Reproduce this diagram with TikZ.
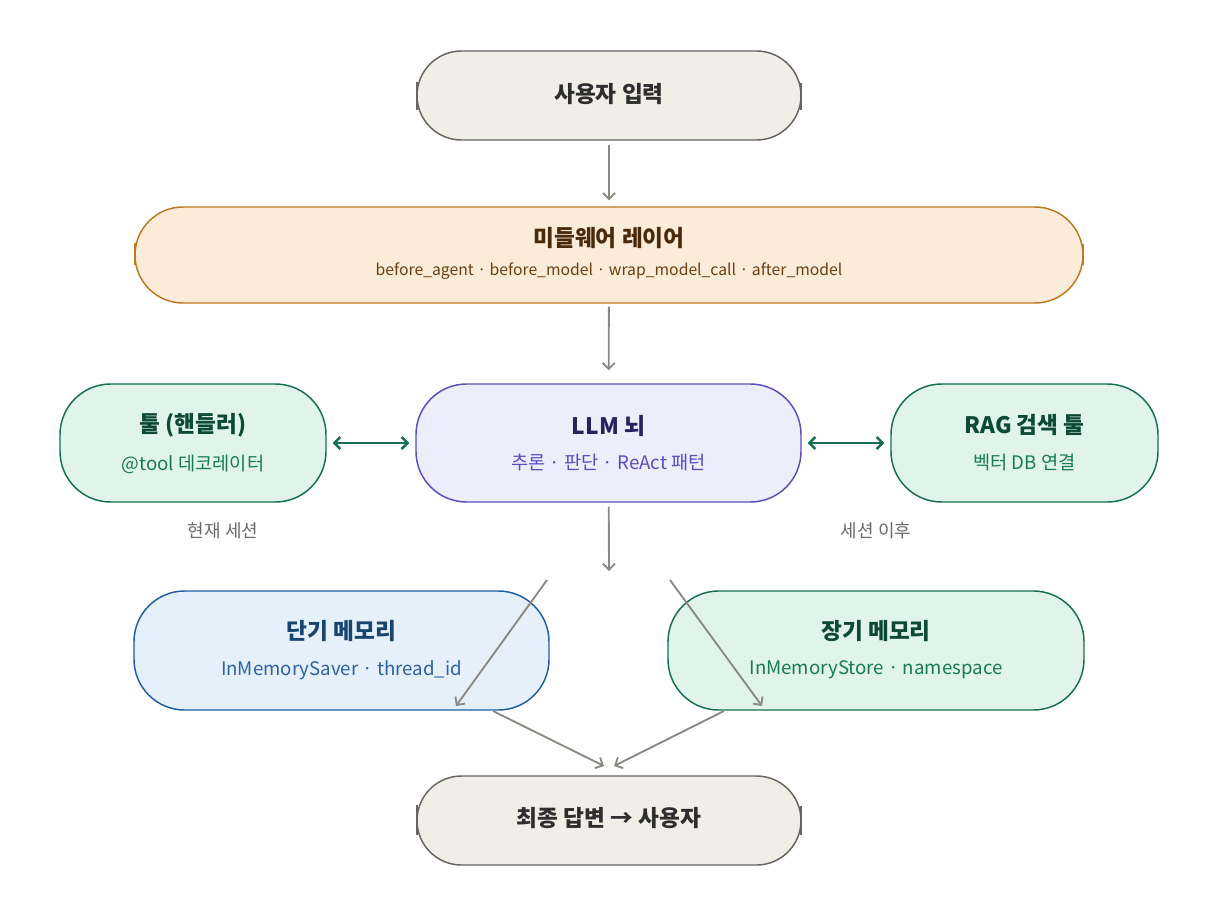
\documentclass[tikz,border=0pt]{standalone}
\usepackage{fontspec}
\setmainfont{Noto Sans CJK KR}
\usetikzlibrary{arrows.meta}
\definecolor{neuF}{HTML}{F1EEE7}
\definecolor{neuD}{HTML}{66655F}
\definecolor{neuT}{HTML}{2E2E2E}
\definecolor{mwF}{HTML}{FAECD9}
\definecolor{mwD}{HTML}{C0781E}
\definecolor{mwT}{HTML}{4B2A0B}
\definecolor{mwS}{HTML}{6A3F12}
\definecolor{llF}{HTML}{EEEDFC}
\definecolor{llD}{HTML}{5B4CC0}
\definecolor{llT}{HTML}{27235E}
\definecolor{llS}{HTML}{5B4CC0}
\definecolor{grF}{HTML}{E1F4EC}
\definecolor{grD}{HTML}{15704F}
\definecolor{grT}{HTML}{0C4A35}
\definecolor{grS}{HTML}{187A57}
\definecolor{blF}{HTML}{E6F0FA}
\definecolor{blD}{HTML}{1E5FA6}
\definecolor{blT}{HTML}{17456F}
\definecolor{blS}{HTML}{2A63A6}
\definecolor{lblC}{HTML}{6B6B6B}
\definecolor{arrC}{HTML}{8A8A85}
\tikzset{
  shapebox/.style={draw, line width=1.1pt, inner sep=0pt},
  ttl/.style={font=\fontsize{17}{20}\selectfont\bfseries, inner sep=0pt},
  sub/.style={font=\fontsize{14}{17}\selectfont, inner sep=0pt},
  subsm/.style={font=\fontsize{11.8}{14}\selectfont, inner sep=0pt},
  lbl/.style={font=\fontsize{13.5}{16}\selectfont, text=lblC, inner sep=0pt},
  garrow/.style={draw=arrC, line width=1.4pt, -{Straight Barb[length=4.5pt,width=9pt]}},
  darrow/.style={draw=grD, line width=1.8pt, {Straight Barb[length=4.5pt,width=9pt]}-{Straight Barb[length=4.5pt,width=9pt]}},
  tick/.style={line width=1.5pt}
}
\begin{document}
\begin{tikzpicture}[x=0.75pt,y=-0.75pt]
\useasboundingbox[fill=white] (0,0) rectangle (1217,917);

% top input
\node[shapebox, draw=neuD, fill=neuF, minimum width=288pt, minimum height=66.75pt, rounded corners=33.37pt] (in) at (609,95.5) {};
\node[ttl, text=neuT] (inT) at (609,94) {사용자 입력};
\draw[tick, neuD] (417,82) -- (417,110);
\draw[tick, neuD] (801,83) -- (801,110);

% middleware
\node[shapebox, draw=mwD, fill=mwF, minimum width=711pt, minimum height=72pt, rounded corners=36pt] (mw) at (609,255) {};
\node[ttl, text=mwT] (mwT) at (609,238) {미들웨어 레이어};
\node[subsm, text=mwS] (mwS) at (609,271) {before\_agent · before\_model · wrap\_model\_call · after\_model};
\draw[tick, mwD] (135,243) -- (135,265);
\draw[tick, mwD] (1083,244) -- (1083,265);

% LLM
\node[shapebox, draw=llD, fill=llF, minimum width=288.75pt, minimum height=88.5pt, rounded corners=38pt] (llm) at (608.5,443) {};
\node[ttl, text=llT] (llmT) at (608.5,426) {LLM 뇌};
\node[sub, text=llS] (llmS) at (608.5,463) {추론 · 판단 · ReAct 패턴};

% tool
\node[shapebox, draw=grD, fill=grF, minimum width=199.5pt, minimum height=88.5pt, rounded corners=38pt] (tool) at (193,443) {};
\node[ttl, text=grT] (toolT) at (193,425) {툴 (핸들러)};
\node[sub, text=grS] (toolS) at (193,464) {@tool 데코레이터};

% RAG
\node[shapebox, draw=grD, fill=grF, minimum width=200.25pt, minimum height=88.5pt, rounded corners=38pt] (rag) at (1024.5,443) {};
\node[ttl, text=grT] (ragT) at (1024.5,425) {RAG 검색 툴};
\node[sub, text=grS] (ragS) at (1024.5,463) {벡터 DB 연결};

% labels
\node[lbl] (cur) at (223,531) {현재 세션};
\node[lbl] (aft) at (876,531) {세션 이후};

% short memory
\node[shapebox, draw=blD, fill=blF, minimum width=311.25pt, minimum height=89.25pt, rounded corners=38pt] (stm) at (341.5,650.5) {};
\node[ttl, text=blT] (stmT) at (341.5,631) {단기 메모리};
\node[sub, text=blS] (stmS) at (341.5,670) {InMemorySaver · thread\_id};

% long memory
\node[shapebox, draw=grD, fill=grF, minimum width=312pt, minimum height=89.25pt, rounded corners=38pt] (ltm) at (876,650.5) {};
\node[ttl, text=grT] (ltmT) at (876,631) {장기 메모리};
\node[sub, text=grS] (ltmS) at (876,670) {InMemoryStore · namespace};

% final
\node[shapebox, draw=neuD, fill=neuF, minimum width=288pt, minimum height=66.75pt, rounded corners=33.37pt] (out) at (609,820.5) {};
\node[ttl, text=neuT] (outT) at (609,818) {최종 답변 → 사용자};
\draw[tick, neuD] (417,805) -- (417,835);
\draw[tick, neuD] (801,806) -- (801,835);

% coordinates
\coordinate (llmEnd) at (609,571);
\coordinate (sA) at (547,580);
\coordinate (sB) at (456,706);
\coordinate (lA) at (670,580);
\coordinate (lB) at (762,706);
\coordinate (bA) at (493,711);
\coordinate (bB) at (604,766);
\coordinate (cA) at (724,711);
\coordinate (cB) at (614,766);

% connectors
\draw[garrow, shorten <=3pt, shorten >=4.5pt] (in) -- (mw);
\draw[garrow, shorten <=2.25pt, shorten >=9.75pt] (mw) -- (llm);
\draw[garrow, shorten <=3pt] (llm) -- (llmEnd);
\draw[darrow, shorten <=4.5pt, shorten >=4.5pt] (tool) -- (llm);
\draw[darrow, shorten <=4.5pt, shorten >=4.5pt] (llm) -- (rag);
\draw[garrow] (sA) -- (sB);
\draw[garrow] (lA) -- (lB);
\draw[garrow] (bA) -- (bB);
\draw[garrow] (cA) -- (cB);
\end{tikzpicture}
\end{document}
